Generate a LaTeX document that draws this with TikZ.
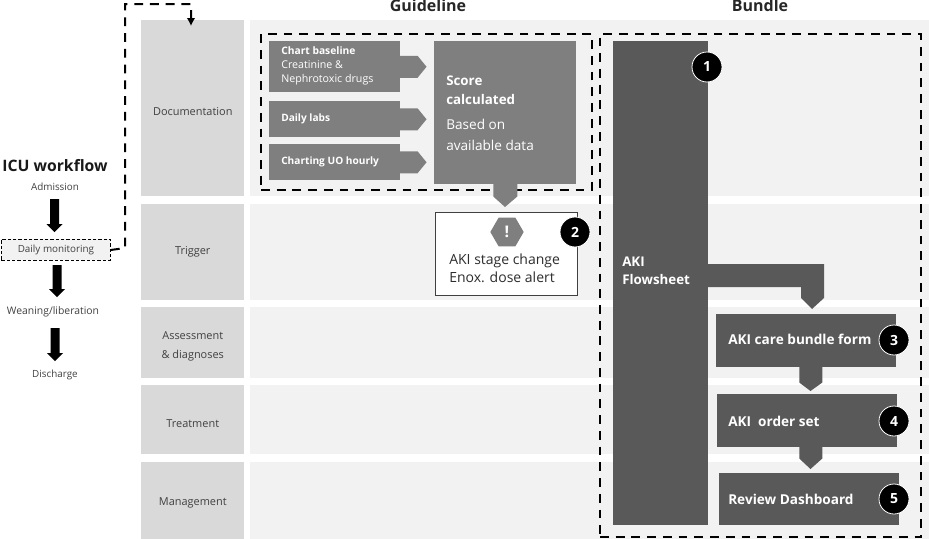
\documentclass[tikz,border=0pt]{standalone}
\usepackage{fontspec}
\setmainfont{Open Sans}
\usetikzlibrary{calc,arrows.meta,shapes.geometric}
\definecolor{band}{HTML}{F2F2F2}
\definecolor{lab}{HTML}{D9D9D9}
\definecolor{midg}{HTML}{7F7F7F}
\definecolor{darkg}{HTML}{595959}
\definecolor{txt}{HTML}{404040}
\newcommand{\fs}[1]{\fontsize{#1}{#1}\selectfont}
\tikzset{
  x=0.75pt,y=-0.75pt,
  rect/.style n args={4}{anchor=north west,inner sep=0pt,minimum width=(#3-#1)*0.75pt,minimum height=(#4-#2)*0.75pt},
  labcell/.style={fill=lab},
  labtext/.style={text=txt,font=\fs{8.2},align=center,inner sep=0pt},
  bandcell/.style={fill=band},
  mid/.style={fill=midg},
  dark/.style={fill=darkg},
  whitebold/.style={anchor=west,text=white,align=left,font=\bfseries\fs{10.2},inner sep=0pt},
  badge/.style={circle,fill=black,draw=white,line width=0.6pt,text=white,font=\bfseries\fs{10.5},minimum size=22.5pt,inner sep=0pt},
  dashbox/.style={draw=black,line width=1.5pt,dash pattern=on 6.6pt off 5.2pt},
  plain/.style={text=txt,font=\fs{7.4},inner sep=0pt},
  blockarrow/.style={fill=black},
}
\begin{document}
\begin{tikzpicture}
\useasboundingbox (0,0) rectangle (929,539);
% rows
\foreach \nm/\t/\b in {doc/20/196,trig/204/300,assess/307/378,treat/385/454,mgmt/462/539}{
  \node[rect={141}{\t}{244}{\b},labcell] (\nm) at (141,\t) {};
  \node[rect={250}{\t}{929}{\b},bandcell] (\nm band) at (250,\t) {};
}
\node[labtext] (doct) at ($(doc.center)+(0,3)$) {Documentation};
\node[labtext] (trigt) at ($(trig.center)+(0,0)$) {Trigger};
\node[labtext] (assesst) at ($(assess.center)+(0,4)$) {Assessment\\[6pt]\& diagnoses};
\node[labtext] (treatt) at ($(treat.center)+(0,3.5)$) {Treatment};
\node[labtext] (mgmtt) at ($(mgmt.center)+(0,2.5)$) {Management};
% headers
\node[font=\bfseries\fs{12},text=txt!60!black,inner sep=0pt] (hg) at (428,6) {Guideline};
\node[font=\bfseries\fs{12},text=txt!60!black,inner sep=0pt] (hb) at (760,6) {Bundle};
% left workflow
\node[font=\bfseries\fs{11.8},text=txt!40!black,inner sep=0pt] (icu) at (55,166) {ICU workflow};
\node[plain] (adm) at (55,187) {Admission};
\node[rect={1}{239}{110}{260},fill=band,draw=black,line width=0.7pt,dash pattern=on 2.5pt off 1.5pt,text=txt,font=\fs{7.4}] (daily) at (1,239) {Daily monitoring};
\node[plain,font=\fs{7.8}] (wean) at (53,312) {Weaning/liberation};
\node[plain] (disch) at (55,375) {Discharge};
\foreach \cx/\ya/\yb in {54.5/199/232,57/265/297,55/328/361}{
  \fill[blockarrow] (\cx-4.5,\ya) -- (\cx+4.5,\ya) -- (\cx+4.5,\yb-8) -- (\cx+8,\yb-8) -- (\cx,\yb) -- (\cx-8,\yb-8) -- (\cx-4.5,\yb-8) -- cycle;
}
% dashed connector
\coordinate (dtop) at (191,26);
\draw[dashbox,-{Latex[length=6pt,width=6.5pt]}] (daily.east) -- (125,248) -- (125,4) -- (191,4) -- (dtop);
% dashed frames
\node[rect={260}{33}{591}{189},dashbox] (gframe) at (260,33) {};
\node[rect={599}{33}{920}{536},dashbox] (bframe) at (599,33) {};
% guideline inputs
\node[rect={269}{41}{400}{92},mid] (chart) at (269,41) {};
\node[rect={269}{101}{400}{137},mid] (labs) at (269,101) {};
\node[rect={269}{144}{400}{180},mid] (uo) at (269,144) {};
\foreach \a in {chart,labs,uo}{
  \fill[midg] ($(\a.east)+(-1,-11)$) -- ++(18,0) -- ++(9,11) -- ++(-9,11) -- ++(-18,0) -- cycle;
}
\node[anchor=west,text=white,align=left,font=\fs{8},inner sep=0pt] (charttxt) at (281,66) {{\bfseries\fs{7.7}Chart baseline}\\[2.6pt]Creatinine \&\\[2.6pt]Nephrotoxic drugs};
\node[anchor=west,text=white,font=\bfseries\fs{7.6},inner sep=0pt] (labstxt) at (281,119) {Daily labs};
\node[anchor=west,text=white,font=\bfseries\fs{7.6},inner sep=0pt] (uotxt) at (281,162) {Charting UO hourly};
% score
\node[rect={434}{41}{576}{184},mid] (score) at (434,41) {};
\fill[midg] ($(score.south)+(-12,-1)$) -- ++(24,0) -- ++(0,13) -- (505,207) -- ($(score.south)+(-12,12)$) -- cycle;
\node[anchor=west,text=white,align=left,inner sep=0pt] (scoretxt) at (446,113.5) {{\bfseries\fs{10}Score}\\[2pt]{\bfseries\fs{10}calculated}\\[7pt]{\fs{10.2}Based on}\\[4pt]{\fs{10.2}available data}};
% alert
\node[rect={435}{212}{577}{295},fill=white,draw=txt,line width=0.8pt] (alert) at (435,212) {};
\node[regular polygon,regular polygon sides=6,fill=midg,text=white,font=\bfseries\fs{12},minimum size=25pt,inner sep=0pt] (hex) at (507,232) {!};
\node[anchor=west,text=txt!70!black,align=left,font=\fs{10.5},inner sep=0pt] (alerttxt) at (449,268) {AKI stage change\\[3pt]Enox. dose alert};
\node[badge] (b2) at (575,232) {2};
% flowsheet
\node[rect={613}{41}{708}{525},dark] (flow) at (613,41) {};
\fill[darkg] (707,264) -- (824,264) -- (824,298) -- (812,309) -- (801,298) -- (801,287) -- (707,287) -- cycle;
\node[whitebold,font=\bfseries\fs{10}] (flowtxt) at (622,271) {AKI\\[3.5pt]Flowsheet};
\node[badge] (b1) at (707,67) {1};
% bundle boxes
\node[rect={716}{314}{896}{367},dark] (f3) at (716,314) {};
\node[rect={717}{394}{897}{447},dark] (f4) at (717,394) {};
\node[rect={719}{473}{899}{525},dark] (f5) at (719,473) {};
\fill[darkg] ($(f3.south)+(-7,-1)$) -- ++(23,0) -- ++(0,16) -- (810.5,391) -- ($(f3.south)+(-7,15)$) -- cycle;
\fill[darkg] ($(f4.south)+(-8,-1)$) -- ++(23,0) -- ++(0,12) -- (810.5,469) -- ($(f4.south)+(-8,11)$) -- cycle;
\node[whitebold] (t3) at (728,339) {AKI care bundle form};
\node[whitebold] (t4) at (728,421) {AKI\ \ order set};
\node[whitebold] (t5) at (728,499) {Review Dashboard};
\node[badge] (b3) at (894,340) {3};
\node[badge] (b4) at (894,421) {4};
\node[badge] (b5) at (894,499) {5};
\end{tikzpicture}
\end{document}
